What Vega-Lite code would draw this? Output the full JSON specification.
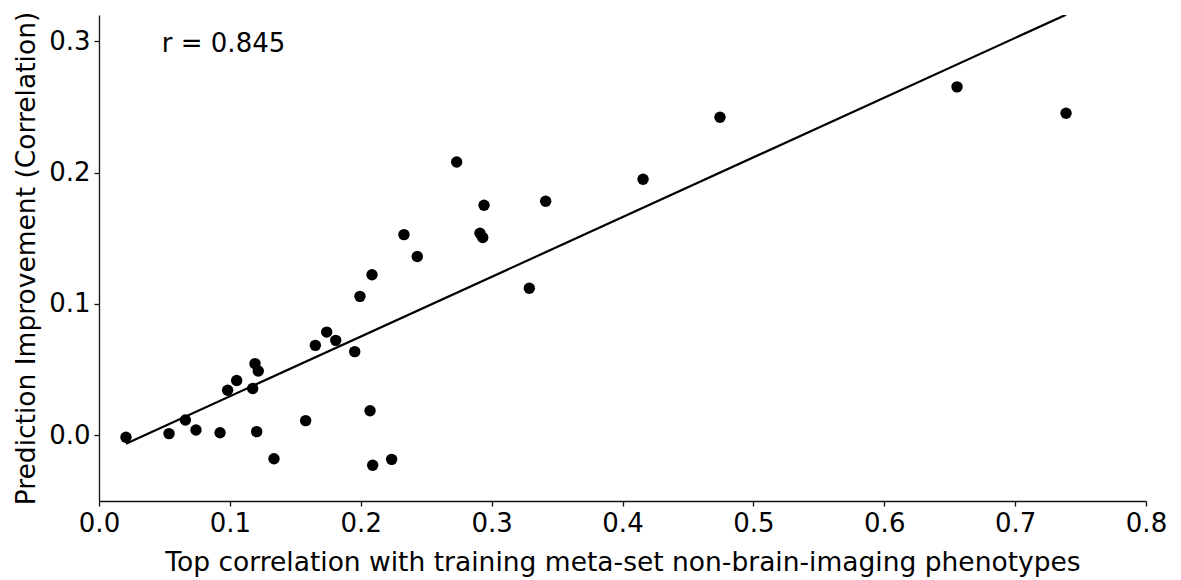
{
  "$schema": "https://vega.github.io/schema/vega-lite/v6.json",
  "width": 1047,
  "height": 486,
  "autosize": {"type": "none"},
  "padding": {"left": 99, "top": 15, "right": 35, "bottom": 79},
  "background": "white",
  "config": {
    "view": {"stroke": null},
    "font": "DejaVu Sans",
    "axis": {
      "grid": false,
      "domainColor": "#111",
      "domainWidth": 1.3,
      "tickColor": "#111",
      "tickWidth": 1.3,
      "tickSize": 5,
      "labelFont": "DejaVu Sans",
      "labelFontSize": 26,
      "labelColor": "black",
      "labelPadding": 4,
      "labelFlush": false,
      "labelOverlap": false,
      "titleFont": "DejaVu Sans",
      "titleFontSize": 26.5,
      "titleFontWeight": "normal",
      "titleColor": "black"
    }
  },
  "datasets": {
    "points": [
      {"x": 0.0206, "y": -0.0015},
      {"x": 0.0535, "y": 0.0013},
      {"x": 0.0660, "y": 0.0117},
      {"x": 0.0741, "y": 0.0041},
      {"x": 0.0925, "y": 0.0020},
      {"x": 0.0983, "y": 0.0343},
      {"x": 0.1052, "y": 0.0417},
      {"x": 0.1174, "y": 0.0356},
      {"x": 0.1192, "y": 0.0546},
      {"x": 0.1217, "y": 0.0490},
      {"x": 0.1205, "y": 0.0028},
      {"x": 0.1337, "y": -0.0178},
      {"x": 0.1579, "y": 0.0112},
      {"x": 0.1653, "y": 0.0685},
      {"x": 0.1740, "y": 0.0786},
      {"x": 0.1809, "y": 0.0723},
      {"x": 0.1954, "y": 0.0637},
      {"x": 0.1994, "y": 0.1058},
      {"x": 0.2071, "y": 0.0187},
      {"x": 0.2091, "y": -0.0228},
      {"x": 0.2086, "y": 0.1222},
      {"x": 0.2236, "y": -0.0183},
      {"x": 0.2330, "y": 0.1528},
      {"x": 0.2432, "y": 0.1361},
      {"x": 0.2733, "y": 0.2081},
      {"x": 0.2911, "y": 0.1538},
      {"x": 0.2932, "y": 0.1506},
      {"x": 0.2942, "y": 0.1752},
      {"x": 0.3288, "y": 0.1120},
      {"x": 0.3413, "y": 0.1782},
      {"x": 0.4157, "y": 0.1950},
      {"x": 0.4745, "y": 0.2422},
      {"x": 0.6556, "y": 0.2653},
      {"x": 0.7389, "y": 0.2452}
    ],
    "label": [{"x": 0.048, "y": 0.298, "text": "r = 0.845"}]
  },
  "layer": [
    {
      "data": {"name": "points"},
      "mark": {"type": "circle", "size": 130, "color": "black", "opacity": 1},
      "encoding": {
        "x": {
          "field": "x", "type": "quantitative",
          "scale": {"domain": [0, 0.8], "nice": false, "zero": false},
          "axis": {
            "title": "Top correlation with training meta-set non-brain-imaging phenotypes",
            "values": [0, 0.1, 0.2, 0.3, 0.4, 0.5, 0.6, 0.7, 0.8],
            "format": ".1f",
            "titleBaseline": "alphabetic",
            "titleY": 69
          }
        },
        "y": {
          "field": "y", "type": "quantitative",
          "scale": {"domain": [-0.05, 0.32], "nice": false, "zero": false},
          "axis": {
            "title": "Prediction Improvement (Correlation)",
            "values": [0, 0.1, 0.2, 0.3],
            "format": ".1f",
            "titleBaseline": "alphabetic",
            "titleX": -65
          }
        }
      }
    },
    {
      "data": {"name": "points"},
      "transform": [{"regression": "y", "on": "x"}],
      "mark": {"type": "line", "color": "black", "strokeWidth": 2.2, "clip": true},
      "encoding": {
        "x": {"field": "x", "type": "quantitative"},
        "y": {"field": "y", "type": "quantitative"}
      }
    },
    {
      "data": {"name": "label"},
      "mark": {"type": "text", "align": "left", "baseline": "middle", "fontSize": 26, "font": "DejaVu Sans", "color": "black"},
      "encoding": {
        "x": {"field": "x", "type": "quantitative"},
        "y": {"field": "y", "type": "quantitative"},
        "text": {"field": "text"}
      }
    }
  ]
}
